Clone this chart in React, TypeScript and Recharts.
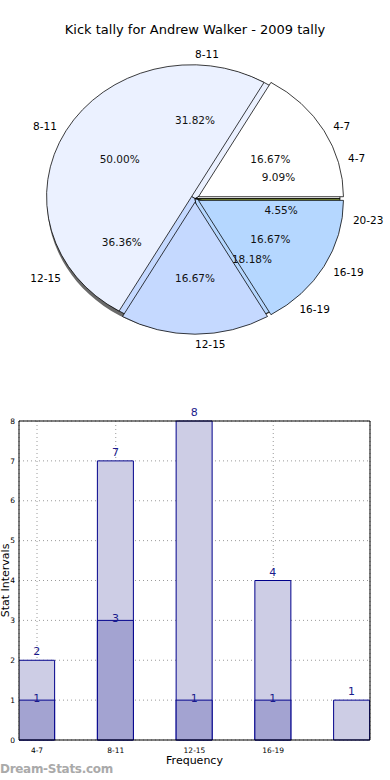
import { PieChart, Pie, Cell, BarChart, Bar, XAxis, YAxis, CartesianGrid, LabelList, ReferenceLine, Label } from 'recharts'

// pie: two overlaid tallies (matplotlib style)
const pieNamesA = ['4-7', '8-11', '12-15', '16-19']
const pieValuesA = [1, 3, 1, 1]
const pieNamesB = ['4-7', '8-11', '12-15', '16-19', '20-23']
const pieValuesB = [2, 7, 8, 4, 1]
const pieColorsA = ['#ffffff', '#ebf1ff', '#c5d9ff', '#b5d7ff']
const pieColorsB = ['#ffffff', '#ebf1ff', '#c5d9ff', '#b5d7ff', '#7a8c3a']

// bars
const barCats = ['4-7', '8-11', '12-15', '16-19', '20-23']
const barTickLabels = ['4-7', '8-11', '12-15', '16-19']
const barTotals = [2, 7, 8, 4, 1]
const barParts = [1, 3, 1, 1, 0]
const yTicks = [0, 1, 2, 3, 4, 5, 6, 7, 8]

const dataA = pieNamesA.map((name, i) => ({ name, value: pieValuesA[i] }))
const dataB = pieNamesB.map((name, i) => ({ name, value: pieValuesB[i] }))
const barData = barCats.map((name, i) => ({ x: i, name, total: barTotals[i], part: barParts[i] }))

const RX = 145
const RY = 132
const K = RY / RX
const EXPLODE = 4
const RAD = Math.PI / 180
const HALF = 0.2286 // half bar width in x units
const NAVY = '#00008b'
const FONT = '"DejaVu Sans", sans-serif'
const NO_MARGIN = { top: 0, right: 0, bottom: 0, left: 0 }

const midAngles = (vals: number[]) => {
  const tot = vals.reduce((a, b) => a + b, 0)
  let acc = 0
  return vals.map(v => {
    const m = (acc + v / 2) / tot * 360
    acc += v
    return m
  })
}

const pieLabel = (p: any) => {
  const a = -p.midAngle * RAD
  const c = Math.cos(a)
  const s = Math.sin(a)
  const nx = p.cx + 1.1 * RX * c
  const ny = p.cy + 1.1 * RY * s
  const px = p.cx + 0.6 * RX * c
  const py = p.cy + 0.6 * RY * s
  return (
    <g key={`lbl-${p.name}-${p.index}`}>
      <text x={nx} y={ny} textAnchor={c > -1e-6 ? 'start' : 'end'} dominantBaseline="central" fontSize={10.5} fill="#000" fontFamily={FONT}>{p.name}</text>
      <text x={px} y={py} textAnchor="middle" dominantBaseline="central" fontSize={10.5} fill="#111" fontFamily={FONT}>{(p.percent * 100).toFixed(2)}%</text>
    </g>
  )
}

export default function App() {
  const midsA = midAngles(pieValuesA)

  return (
    <div style={{ position: 'relative', width: 390, height: 780, background: '#fff', overflow: 'hidden', fontFamily: FONT }}>
      <style>{'body{margin:0}'}</style>
      <div style={{ position: 'absolute', top: 22, left: 0, width: 390, textAlign: 'center', fontSize: 13, color: '#000' }}>
        Kick tally for Andrew Walker - 2009 tally
      </div>

      {/* slices, squashed into an ellipse */}
      <div style={{ position: 'absolute', left: 0, top: 199 - 150 * K, width: 390, height: 300, transform: `scaleY(${K})`, transformOrigin: 'top left' }}>
        <PieChart width={390} height={300} margin={NO_MARGIN}>
          <Pie data={[{ name: 'shadow', value: 1 }]} dataKey="value" cx={192} cy={153} outerRadius={RX} fill="#6a6a6a" stroke="none" isAnimationActive={false} />
          <Pie data={dataB} dataKey="value" nameKey="name" cx={195} cy={150} outerRadius={RX} startAngle={0} endAngle={360} stroke="#000" strokeWidth={0.8} isAnimationActive={false}>
            {dataB.map((d, i) => <Cell key={d.name} fill={pieColorsB[i]} />)}
          </Pie>
          {dataA.map((d, i) => (
            <Pie
              key={`a-${d.name}`}
              data={dataA}
              dataKey="value"
              nameKey="name"
              cx={195 + EXPLODE * Math.cos(midsA[i] * RAD)}
              cy={150 - EXPLODE * Math.sin(midsA[i] * RAD)}
              outerRadius={RX}
              startAngle={0}
              endAngle={360}
              isAnimationActive={false}
            >
              {dataA.map((e, j) => (
                <Cell key={e.name} fill={j === i ? pieColorsA[j] : 'none'} stroke={j === i ? '#000' : 'none'} strokeWidth={0.8} />
              ))}
            </Pie>
          ))}
        </PieChart>
      </div>

      {/* labels on the ellipse */}
      <div style={{ position: 'absolute', left: 0, top: 0, width: 390, height: 400 }}>
        <PieChart width={390} height={400} margin={NO_MARGIN}>
          <Pie data={dataB} dataKey="value" nameKey="name" cx={195} cy={199} outerRadius={RX} startAngle={0} endAngle={360} fill="none" stroke="none" label={pieLabel} labelLine={false} isAnimationActive={false} />
          <Pie data={dataA} dataKey="value" nameKey="name" cx={195} cy={199} outerRadius={RX} startAngle={0} endAngle={360} fill="none" stroke="none" label={pieLabel} labelLine={false} isAnimationActive={false} />
        </PieChart>
      </div>

      <div style={{ position: 'absolute', left: 0, top: 400 }}>
        <BarChart width={390} height={380} data={barData} margin={{ top: 21, right: 20, bottom: 0, left: 0 }}>
          <XAxis
            dataKey="x"
            type="number"
            domain={[-HALF, 4 + HALF]}
            allowDataOverflow
            ticks={[0, 1, 2, 3]}
            tickFormatter={(v: number) => barTickLabels[v] ?? ''}
            tick={{ fontSize: 7.5, fill: '#000', fontFamily: FONT }}
            tickLine={false}
            tickSize={0}
            tickMargin={8}
            axisLine={{ stroke: '#000' }}
            height={40}
          >
            <Label value="Frequency" position="insideBottom" offset={16} fontSize={11} fill="#000" fontFamily={FONT} />
          </XAxis>
          <XAxis xAxisId="top" dataKey="x" type="number" orientation="top" domain={[-HALF, 4 + HALF]} allowDataOverflow tick={false} tickLine={false} axisLine={{ stroke: '#000' }} height={0} />
          <YAxis
            domain={[0, 8]}
            ticks={yTicks}
            tick={{ fontSize: 7.5, fill: '#000', fontFamily: FONT }}
            tickLine={false}
            tickSize={0}
            tickMargin={4}
            axisLine={{ stroke: '#000' }}
            width={19}
            interval={0}
          >
            <Label
              content={({ viewBox }: any) => (
                <text x={5.5} y={viewBox.y + viewBox.height / 2} transform={`rotate(-90 5.5 ${viewBox.y + viewBox.height / 2})`} textAnchor="middle" dominantBaseline="central" fontSize={11} fill="#000" fontFamily={FONT}>
                  Stat Intervals
                </text>
              )}
            />
          </YAxis>
          <Bar dataKey="total" barSize={36} fill="#cdcde5" stroke={NAVY} strokeWidth={1} isAnimationActive={false}>
            <LabelList dataKey="total" position="top" offset={5} fill="#1a1a8c" fontSize={11} fontFamily={FONT} />
          </Bar>
          <Bar dataKey="part" xAxisId="top" barSize={36} fill="#a3a3d1" stroke={NAVY} strokeWidth={1} isAnimationActive={false}>
            <LabelList dataKey="part" position="top" offset={-2} fill="#1a1a8c" fontSize={11} fontFamily={FONT} formatter={(v: any) => (v ? v : '')} />
          </Bar>
          <CartesianGrid stroke="#9a9a9a" strokeDasharray="1 3" fill="none" />
          <ReferenceLine x={4 + HALF} stroke="#000" ifOverflow="visible" />
          <ReferenceLine y={8} stroke="#000" ifOverflow="visible" />
        </BarChart>
      </div>

      <div style={{ position: 'absolute', left: 0, top: 762, fontSize: 12, fontWeight: 'bold', color: '#aaa', fontFamily: '"DejaVu Sans", sans-serif', letterSpacing: -0.3 }}>
        Dream-Stats.com
      </div>
    </div>
  )
}
